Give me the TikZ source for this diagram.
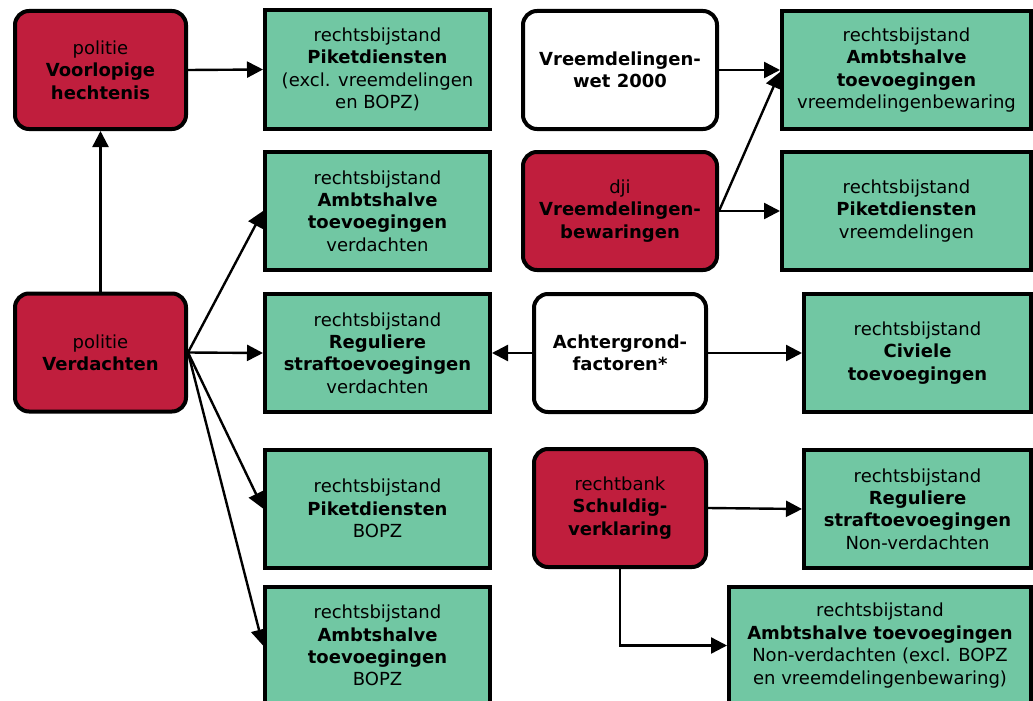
\documentclass[tikz,border=0pt]{standalone}
\usepackage{fontspec}
\setmainfont{DejaVu Sans}
\usepackage{tikz}
\usetikzlibrary{arrows.meta,positioning}
\usepackage{xcolor}
\definecolor{bordeauxrood}{RGB}{192,30,61}
\definecolor{mintgroen}{RGB}{113,199,163}

\tikzset{
  blok/.style={draw=black, line width=4pt, align=center, inner sep=2pt,
    font=\fontsize{18}{22.4}\selectfont, minimum height=118pt},
  instantie/.style={blok, rounded corners=14pt, fill=bordeauxrood},
  factor/.style={blok, rounded corners=14pt, fill=white},
  bijstand/.style={blok, fill=mintgroen},
  pijl/.style={line width=2.4pt, -{Triangle[length=16pt,width=16pt]}}
}

\begin{document}
\begin{tikzpicture}[x=1pt, y=-1pt]
        \useasboundingbox (0,0) rectangle (1033,701);

        % Instanties (rood)
        \node[instantie, minimum width=171pt] (voorlopig) at (100.5,70)
            {politie\\\textbf{Voorlopige}\\\textbf{hechtenis}};
        \node[instantie, minimum width=171pt] (verdacht) at (100.5,352.5)
            {politie\\\textbf{Verdachten}};
        \node[instantie, minimum width=194pt] (dji) at (620,211)
            {dji\\\textbf{Vreemdelingen-}\\\textbf{bewaringen}};
        \node[instantie, minimum width=172pt] (schuld) at (620,508)
            {rechtbank\\\textbf{Schuldig-}\\\textbf{verklaring}};

        % Achtergrond (wit)
        \node[factor, minimum width=194pt] (vwet) at (620,70)
            {\textbf{Vreemdelingen-}\\\textbf{wet 2000}};
        \node[factor, minimum width=172pt] (achter) at (620,353)
            {\textbf{Achtergrond-}\\\textbf{factoren*}};

        % Rechtsbijstand (groen), linker kolom
        \node[bijstand, minimum width=225pt] (piketexcl) at (377.5,69.5)
            {rechtsbijstand\\\textbf{Piketdiensten}\\(excl. vreemdelingen\\en BOPZ)};
        \node[bijstand, minimum width=225pt] (ambtverd) at (377.5,211)
            {rechtsbijstand\\\textbf{Ambtshalve}\\\textbf{toevoegingen}\\verdachten};
        \node[bijstand, minimum width=225pt] (regverd) at (377.5,353)
            {rechtsbijstand\\\textbf{Reguliere}\\\textbf{straftoevoegingen}\\verdachten};
        \node[bijstand, minimum width=225pt] (piketbopz) at (377.5,508.5)
            {rechtsbijstand\\\textbf{Piketdiensten}\\BOPZ};
        \node[bijstand, minimum width=225pt] (ambtbopz) at (377.5,645.5)
            {rechtsbijstand\\\textbf{Ambtshalve}\\\textbf{toevoegingen}\\BOPZ};

        % Rechtsbijstand (groen), rechter kolom
        \node[bijstand, minimum width=249pt] (ambtvreemd) at (906.5,70)
            {rechtsbijstand\\\textbf{Ambtshalve}\\\textbf{toevoegingen}\\vreemdelingenbewaring};
        \node[bijstand, minimum width=249pt] (piketvreemd) at (906.5,211)
            {rechtsbijstand\\\textbf{Piketdiensten}\\vreemdelingen};
        \node[bijstand, minimum width=227pt] (civiel) at (917.5,353)
            {rechtsbijstand\\\textbf{Civiele}\\\textbf{toevoegingen}};
        \node[bijstand, minimum width=227pt] (regnon) at (917.5,509)
            {rechtsbijstand\\\textbf{Reguliere}\\\textbf{straftoevoegingen}\\Non-verdachten};
        \node[bijstand, minimum width=302pt] (ambtnon) at (880,645.5)
            {rechtsbijstand\\\textbf{Ambtshalve toevoegingen}\\Non-verdachten (excl. BOPZ\\en vreemdelingenbewaring)};

        % Verbindingen
        \draw[pijl] (voorlopig.east) -- (piketexcl.west);
        \draw[pijl] (verdacht.north) -- (voorlopig.south);
        \foreach \doel in {ambtverd,regverd,piketbopz,ambtbopz}
            \draw[pijl] (verdacht.east) -- (\doel.west);
        \draw[pijl] (vwet.east) -- (ambtvreemd.west);
        \draw[pijl] (dji.east) -- ([yshift=-2pt]ambtvreemd.west);
        \draw[pijl] (dji.east) -- (piketvreemd.west);
        \draw[pijl] (achter.west) -- (regverd.east);
        \draw[pijl] (achter.east) -- (civiel.west);
        \draw[pijl] (schuld.east) -- (regnon.west);
        \draw[pijl] (schuld.south) |- (ambtnon.west);
    \end{tikzpicture}
\end{document}
